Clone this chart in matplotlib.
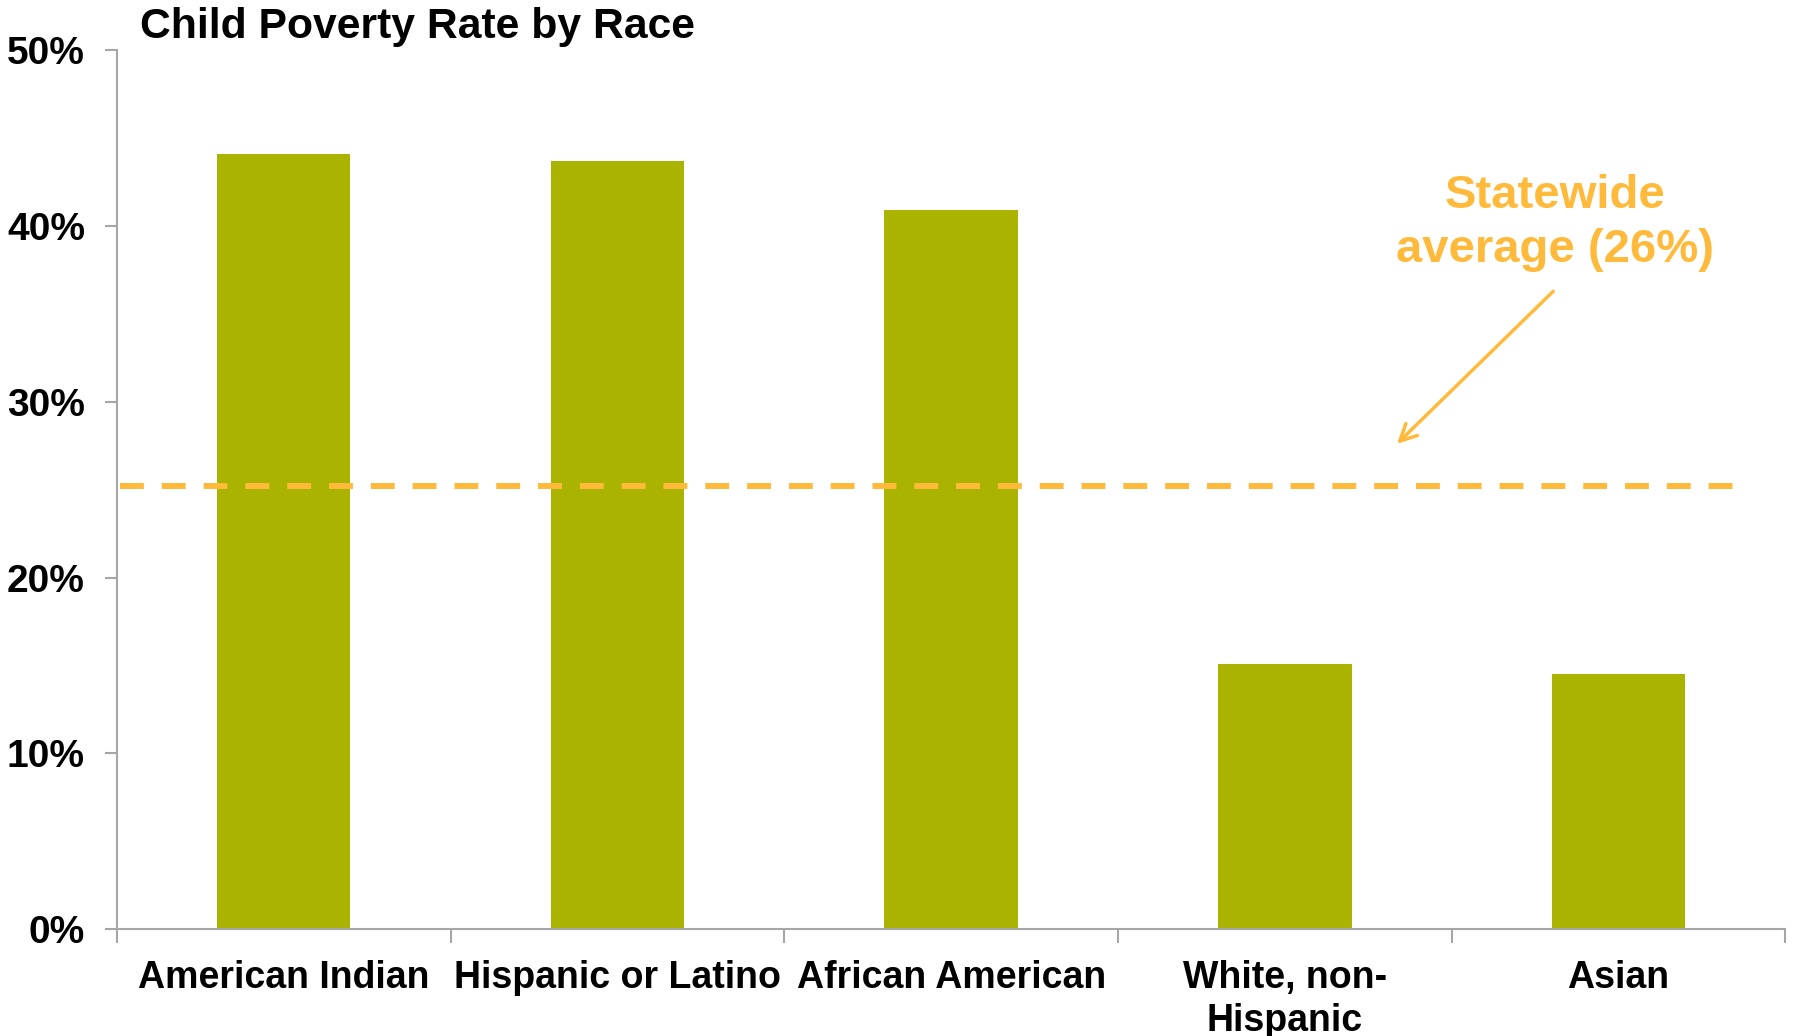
import matplotlib
matplotlib.use("Agg")
import matplotlib.pyplot as plt
from matplotlib.ticker import FuncFormatter, MultipleLocator

categories = ["American Indian", "Hispanic or Latino", "African American",
              "White, non-\nHispanic", "Asian"]
poverty_rate = [44.1, 43.7, 40.9, 15.1, 14.5]
statewide_avg = 25.2
avg_label = "Statewide\naverage (26%)"

BAR_COLOR = "#aab400"
AVG_COLOR = "#ffba3c"
AXIS_GRAY = "#a6a6a6"
FONT = ["Liberation Sans", "DejaVu Sans"]

fig = plt.figure(figsize=(17.98, 10.36), dpi=100)
ax = fig.add_axes([0.065, 0.1033, 0.928, 0.848])

x = list(range(len(categories)))
ax.bar(x, poverty_rate, width=0.4, color=BAR_COLOR, zorder=2)
ax.axhline(statewide_avg, xmin=0.002, xmax=0.975, color=AVG_COLOR,
           linewidth=4.3, dashes=(4, 3), zorder=3)

ax.set_xlim(-0.5, len(categories) - 0.5)
ax.set_ylim(0, 50)
ax.yaxis.set_major_locator(MultipleLocator(10))
ax.yaxis.set_major_formatter(FuncFormatter(lambda v, _: f"{v:.0f}%"))

# category labels centred on bars, tick marks on the category boundaries
ax.set_xticks(x)
ax.set_xticklabels(categories, fontfamily=FONT, fontweight="bold",
                   fontsize=27, linespacing=1.25)
ax.set_xticks([i - 0.5 for i in range(len(categories) + 1)], minor=True)
ax.tick_params(axis="x", which="major", length=0, pad=22)
ax.tick_params(axis="x", which="minor", length=10, width=1.5, color=AXIS_GRAY)
ax.tick_params(axis="y", length=9, width=1.5, color=AXIS_GRAY, pad=14)
for lbl in ax.get_yticklabels():
    lbl.set_fontfamily(FONT)
    lbl.set_fontweight("bold")
    lbl.set_fontsize(28)

for side in ("top", "right"):
    ax.spines[side].set_visible(False)
for side in ("left", "bottom"):
    ax.spines[side].set_color(AXIS_GRAY)
    ax.spines[side].set_linewidth(1.5)

fig.text(0.078, 0.993, "Child Poverty Rate by Race", fontfamily=FONT,
         fontweight="bold", fontsize=30.7, va="top", ha="left")

ax.text(3.81, 40.2, avg_label, color=AVG_COLOR, fontfamily=FONT,
        fontweight="bold", fontsize=34, ha="center", va="center", linespacing=1.3)
ax.annotate("", xy=(3.33, 27.5), xytext=(3.81, 36.4),
            arrowprops=dict(arrowstyle="->", color=AVG_COLOR, lw=2.5,
                            mutation_scale=30))

fig.savefig("out.png", dpi=100)
